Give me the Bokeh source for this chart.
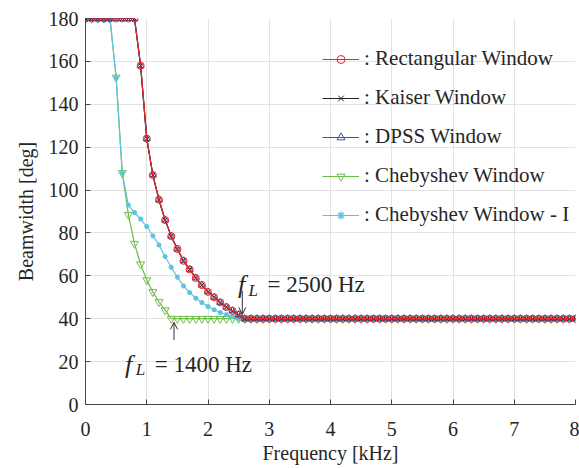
from bokeh.plotting import figure
from bokeh.models import Range1d, Legend, LegendItem, Arrow, OpenHead, FixedTicker
from bokeh.core.properties import value
from bokeh.embed import file_html
from bokeh.resources import INLINE

# ---------------- data ----------------
freq = [round(0.1 * i, 1) for i in range(81)]  # kHz, 0.0 ... 8.0

rect = [180, 180, 180, 180, 180, 180, 180, 180, 180,
        158, 124, 107, 95.5, 86, 78.5, 72.5, 67, 63, 59, 55.7, 52.5, 50, 47.6, 45.4, 43.7, 41.9,
        40, 40, 40, 40, 40, 40, 40, 40, 40, 40, 40,
        40, 40, 40, 40, 40, 40, 40, 40, 40, 40, 40,
        40, 40, 40, 40, 40, 40, 40, 40, 40, 40, 40,
        40, 40, 40, 40, 40, 40, 40, 40, 40, 40, 40,
        40, 40, 40, 40, 40, 40, 40, 40, 40, 40, 40]

kaiser = [180, 180, 180, 180, 180, 180, 180, 180, 180,
          158, 124, 107, 95.5, 86, 78.5, 72.5, 67, 63, 59, 55.7, 52.5, 50, 47.6, 45.4, 43.7, 41.9,
          40, 40, 40, 40, 40, 40, 40, 40, 40, 40, 40,
          40, 40, 40, 40, 40, 40, 40, 40, 40, 40, 40,
          40, 40, 40, 40, 40, 40, 40, 40, 40, 40, 40,
          40, 40, 40, 40, 40, 40, 40, 40, 40, 40, 40,
          40, 40, 40, 40, 40, 40, 40, 40, 40, 40, 40]

dpss = [180, 180, 180, 180, 180, 180, 180, 180, 180,
        158, 124, 107, 95.5, 86, 78.5, 72.5, 67, 63, 59, 55.7, 52.5, 50, 47.6, 45.4, 43.7, 41.9,
        40, 40, 40, 40, 40, 40, 40, 40, 40, 40, 40,
        40, 40, 40, 40, 40, 40, 40, 40, 40, 40, 40,
        40, 40, 40, 40, 40, 40, 40, 40, 40, 40, 40,
        40, 40, 40, 40, 40, 40, 40, 40, 40, 40, 40,
        40, 40, 40, 40, 40, 40, 40, 40, 40, 40, 40]

cheb = [180, 180, 180, 180, 180,
        152.5, 108, 88.5, 75, 65.4, 58, 52.5, 47.8, 44,
        40, 40, 40, 40, 40, 40, 40, 40, 40, 40, 40,
        40, 40, 40, 40, 40, 40, 40, 40, 40, 40, 40,
        40, 40, 40, 40, 40, 40, 40, 40, 40, 40, 40,
        40, 40, 40, 40, 40, 40, 40, 40, 40, 40, 40,
        40, 40, 40, 40, 40, 40, 40, 40, 40, 40, 40,
        40, 40, 40, 40, 40, 40, 40, 40, 40, 40, 40,
        40]

cheb_i = [180, 180, 180, 180, 180,
          152.5, 108,
          93, 89.5, 86.5, 83, 78.7, 74.4, 69, 64, 59.4, 55.3, 52.2, 49.6, 47.6, 45.7, 44.2, 42.9, 41.9, 41,
          40, 40, 40, 40, 40, 40, 40, 40, 40, 40, 40,
          40, 40, 40, 40, 40, 40, 40, 40, 40, 40, 40,
          40, 40, 40, 40, 40, 40, 40, 40, 40, 40, 40,
          40, 40, 40, 40, 40, 40, 40, 40, 40, 40, 40,
          40, 40, 40, 40, 40, 40, 40, 40, 40, 40, 40,
          40]

series_labels = [": Rectangular Window", ": Kaiser Window", ": DPSS Window",
                 ": Chebyshev Window", ": Chebyshev Window - I"]
x_ticks = [0, 1, 2, 3, 4, 5, 6, 7, 8]
y_ticks = [0, 20, 40, 60, 80, 100, 120, 140, 160, 180]

# annotation anchors (data units)
ann1_f = (2.49, 55.8)
ann1_L = (2.66, 53.3)
ann1_rest = (2.97, 55.8)
ann1_text = "= 2500 Hz"
arrow1 = (2.56, 53.0, 2.56, 42.0)

ann2_f = (0.645, 18.6)
ann2_L = (0.82, 16.1)
ann2_rest = (1.13, 18.6)
ann2_text = "= 1400 Hz"
arrow2 = (1.445, 30.0, 1.445, 38.3)

# ---------------- styles ----------------
RED = "#e8252b"
BLACK = "#222222"
BLUE = "#3b55a6"
GREEN = "#6dbd4a"
CYAN = "#5cc4e2"
TXT = "#262626"
SERIF = "Liberation Serif"

p = figure(width=579, height=468, output_backend="svg", toolbar_location=None,
           x_range=Range1d(0, 8), y_range=Range1d(0, 180),
           min_border_left=85, min_border_right=4, min_border_top=18, min_border_bottom=64)
p.outline_line_color = None
p.background_fill_color = "white"
p.border_fill_color = "white"

for ax in (p.xaxis[0], p.yaxis[0]):
    ax.major_label_text_font = SERIF
    ax.major_label_text_font_size = "20px"
    ax.major_label_text_color = TXT
    ax.axis_label_text_font = SERIF
    ax.axis_label_text_font_size = "20px"
    ax.axis_label_text_font_style = "normal"
    ax.axis_label_text_color = TXT
    ax.axis_line_color = "#444444"
    ax.major_tick_line_color = "#444444"
    ax.major_tick_in = 5
    ax.major_tick_out = 0
    ax.minor_tick_line_color = None

p.xaxis.ticker = FixedTicker(ticks=x_ticks)
p.yaxis.ticker = FixedTicker(ticks=y_ticks)
p.xaxis.axis_label = "Frequency [kHz]"
p.yaxis.axis_label = "Beamwidth [deg]"
p.xaxis.major_label_standoff = 17
p.yaxis.major_label_standoff = 7
p.xaxis.axis_label_standoff = 3
p.yaxis.axis_label_standoff = 9

p.xgrid.grid_line_color = "#e2e2e2"
p.ygrid.grid_line_color = "#e2e2e2"
p.xgrid.grid_line_width = 1
p.ygrid.grid_line_width = 1

lw = 1.2
# draw order: green, cyan, blue, black, red on top
g_l = p.line(freq, cheb, line_color=GREEN, line_width=lw)
g_m = p.scatter(freq, cheb, marker="inverted_triangle", size=8, line_color=GREEN,
                fill_color=None, line_width=1)
c_l = p.line(freq, cheb_i, line_color=CYAN, line_width=lw)
c_m = p.scatter(freq, cheb_i, marker="asterisk", size=5, line_color=CYAN, line_width=1.5)
b_l = p.line(freq, dpss, line_color=BLUE, line_width=lw)
b_m = p.scatter(freq, dpss, marker="triangle", size=7, line_color=BLUE, fill_color=None, line_width=1)
k_l = p.line(freq, kaiser, line_color=BLACK, line_width=lw)
k_m = p.scatter(freq, kaiser, marker="x", size=6, line_color=BLACK, line_width=1)
r_l = p.line(freq, rect, line_color=RED, line_width=lw)
r_m = p.scatter(freq, rect, marker="circle", size=7, line_color=RED, fill_color=None, line_width=1)

legend = Legend(items=[
    LegendItem(label=series_labels[0], renderers=[r_l, r_m]),
    LegendItem(label=series_labels[1], renderers=[k_l, k_m]),
    LegendItem(label=series_labels[2], renderers=[b_l, b_m]),
    LegendItem(label=series_labels[3], renderers=[g_l, g_m]),
    LegendItem(label=series_labels[4], renderers=[c_l, c_m]),
], location=(237, 177))
legend.background_fill_alpha = 0
legend.border_line_alpha = 0
legend.label_text_font = SERIF
legend.label_text_font_size = "21px"
legend.label_text_color = TXT
legend.glyph_width = 37
legend.glyph_height = 20
legend.label_height = 20
legend.spacing = 14
legend.padding = 0
legend.margin = 0
legend.label_standoff = 5
p.add_layout(legend)

# annotations
def fl_label(fpos, lpos, rpos, rest):
    p.text(x=[fpos[0]], y=[fpos[1]], text=["f"], text_font=value(SERIF), text_font_style="italic",
           text_font_size="26px", text_color=TXT, text_baseline="alphabetic", text_align="left")
    p.text(x=[lpos[0]], y=[lpos[1]], text=["L"], text_font=value(SERIF), text_font_style="italic",
           text_font_size="17px", text_color=TXT, text_baseline="alphabetic", text_align="left")
    p.text(x=[rpos[0]], y=[rpos[1]], text=[rest], text_font=value(SERIF),
           text_font_size="23px", text_color=TXT, text_baseline="alphabetic", text_align="left")

fl_label(ann1_f, ann1_L, ann1_rest, ann1_text)
fl_label(ann2_f, ann2_L, ann2_rest, ann2_text)

for (xs, ys, xe, ye) in (arrow1, arrow2):
    p.add_layout(Arrow(end=OpenHead(size=7, line_color="#333333", line_width=1),
                       x_start=xs, y_start=ys, x_end=xe, y_end=ye,
                       line_color="#333333", line_width=1))

open("out.html", "w").write(file_html(p, INLINE))
